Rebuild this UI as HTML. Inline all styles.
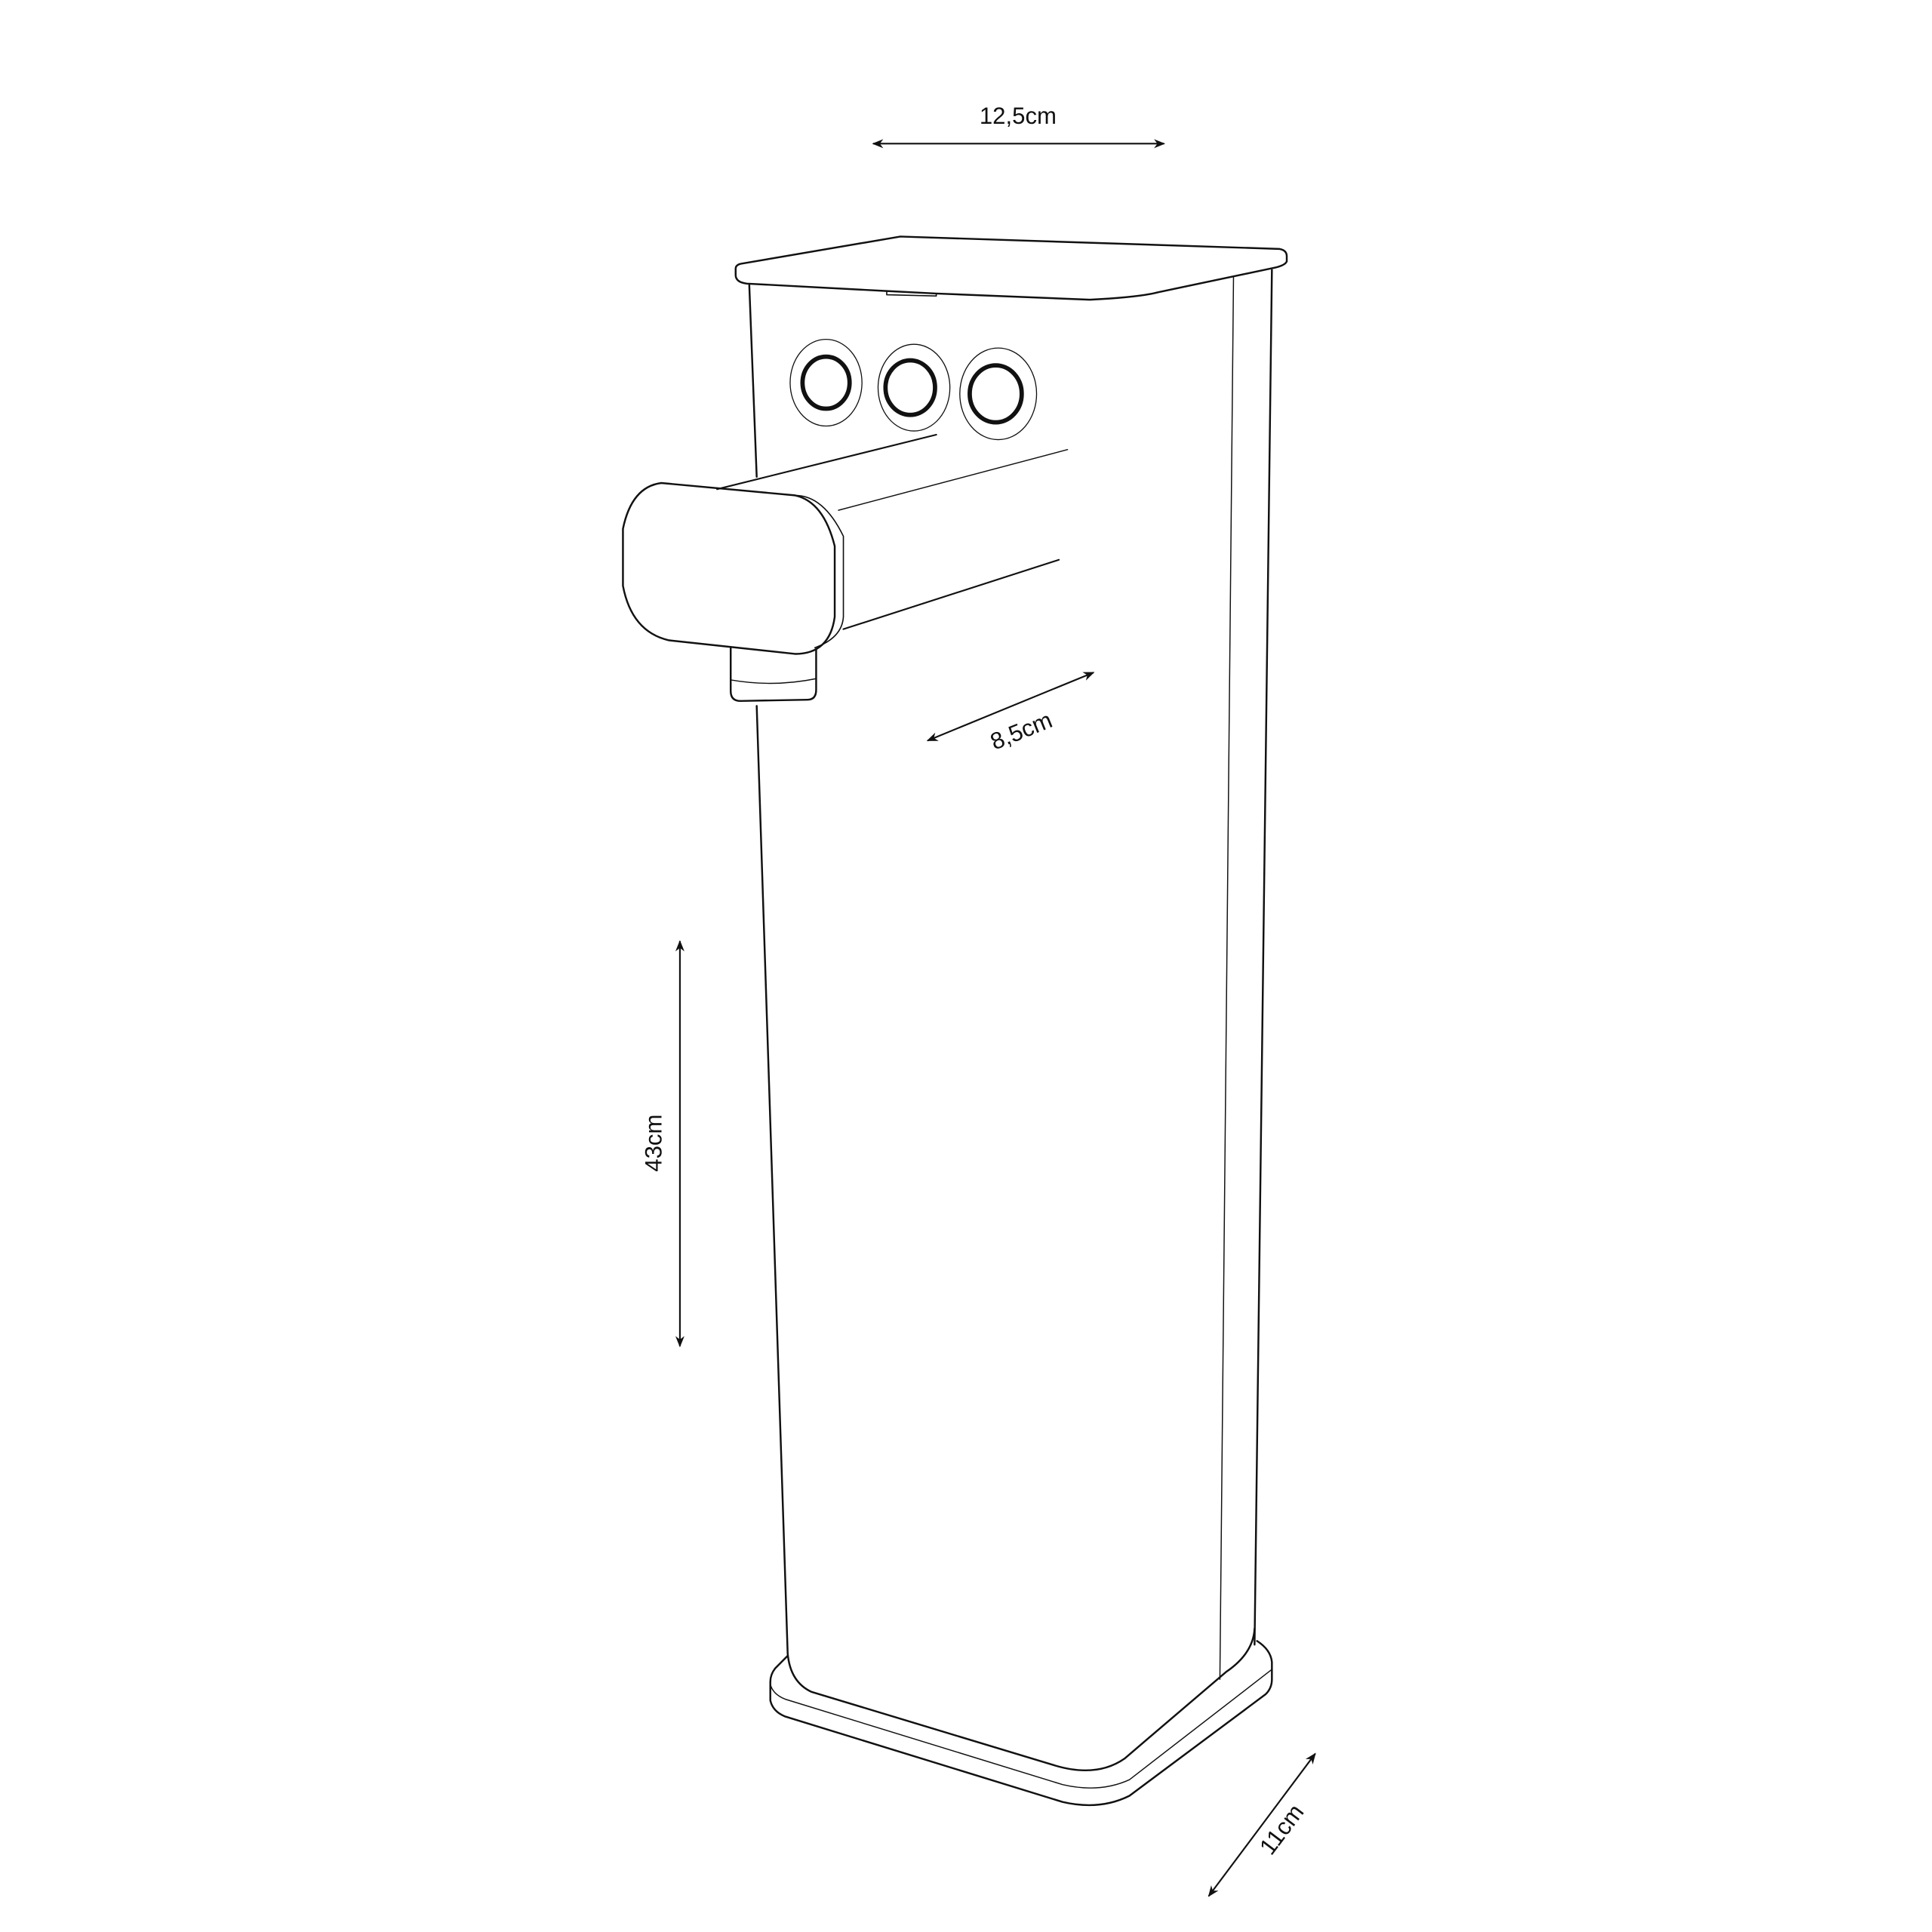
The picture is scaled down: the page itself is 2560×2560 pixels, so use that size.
<!DOCTYPE html>
<html><head><meta charset="utf-8"><style>
html,body{margin:0;padding:0;background:#fff;}
svg{display:block;}
text{font-family:"Liberation Sans",sans-serif;fill:#111;}
</style></head><body>
<svg width="2560" height="2560" viewBox="0 0 1560 1560" xmlns="http://www.w3.org/2000/svg">
<defs>
<marker id="ah" viewBox="0 0 10 10" refX="9" refY="5" markerWidth="7" markerHeight="7" orient="auto-start-reverse"><path d="M0,1 L10,5 L0,9 L3,5 Z" fill="#111"/></marker>
</defs>
<g fill="none" stroke="#111" stroke-linejoin="round" stroke-linecap="round">
<!-- lid -->
<path d="M598,213 L727,191 L1033,201 Q1039,202 1039,207 L1039,211 Q1038,214 1030,216 L935,236 Q920,240 880,242 L756,237 L716,235 L603,229 Q594,228 594,222 L594,217 Q594,214 598,213 Z" stroke-width="1.5"/>
<path d="M716,235 L716,238 L756,239 L756,237" stroke-width="1"/>
<!-- body -->
<path d="M605,230 L611,385" stroke-width="1.5"/>
<path d="M1027,218 L1013,1328" stroke-width="1.5"/>
<path d="M996,224 L985,1356" stroke-width="0.9"/>
<path d="M611,570 L636,1335 Q638,1358 655,1366 L850,1425 Q885,1436 908,1420 L990,1350 Q1012,1335 1013,1315" stroke-width="1.5"/>
<!-- base -->
<path d="M636,1337 L626,1347 Q622,1352 622,1358 L622,1373 Q624,1382 634,1386 L858,1455 Q888,1462 912,1450 L1022,1368 Q1027,1363 1027,1356 L1027,1342 Q1026,1332 1015,1325" stroke-width="1.5"/>
<path d="M622,1360 Q624,1368 634,1372 L858,1441 Q888,1448 912,1437 L1027,1348" stroke-width="0.9"/>
<!-- buttons -->
<ellipse cx="667" cy="309" rx="29" ry="35" stroke-width="0.8"/>
<ellipse cx="667" cy="309" rx="19" ry="21" stroke-width="3.5"/>
<ellipse cx="738" cy="313" rx="29" ry="35" stroke-width="0.8"/>
<ellipse cx="735" cy="313" rx="20" ry="22" stroke-width="3.5"/>
<ellipse cx="806" cy="318" rx="31" ry="37" stroke-width="0.8"/>
<ellipse cx="804" cy="318" rx="21" ry="23" stroke-width="3.5"/>
<!-- spout -->
<path d="M579,395 L756,351" stroke-width="1.3"/>
<path d="M677,412 L862,363" stroke-width="0.9"/>
<path d="M681,508 L855,452" stroke-width="1.3"/>
<path d="M642,400 Q665,400 681,433 L681,498 Q680,515 658,523" stroke-width="1"/>
<path d="M534,390 L642,400 Q665,405 674,441 L674,498 Q670,528 642,528 L540,517 Q510,510 503,473 L503,427 Q510,393 534,390 Z" stroke-width="1.5"/>
<!-- nozzle -->
<path d="M590,523 L590,558 Q590,566 598,566 L652,565 Q659,565 659,557 L659,524" stroke-width="1.5"/>
<path d="M590,549 Q625,555 659,548" stroke-width="0.9"/>
</g>
<!-- dimension arrows -->
<g stroke="#111" stroke-width="1.3" fill="none">
<line x1="705" y1="116" x2="940" y2="116" marker-start="url(#ah)" marker-end="url(#ah)"/>
<line x1="749" y1="598" x2="883" y2="543" marker-start="url(#ah)" marker-end="url(#ah)"/>
<line x1="549" y1="760" x2="549" y2="1087" marker-start="url(#ah)" marker-end="url(#ah)"/>
<line x1="976" y1="1531" x2="1062" y2="1416" marker-start="url(#ah)" marker-end="url(#ah)"/>
</g>
<text x="822" y="100" font-size="19" text-anchor="middle">12,5cm</text>
<text transform="translate(827,596) rotate(-22)" font-size="19" text-anchor="middle">8,5cm</text>
<text transform="translate(534,923) rotate(-90)" font-size="19" text-anchor="middle">43cm</text>
<text transform="translate(1040,1481) rotate(-53)" font-size="19" text-anchor="middle">11cm</text>
</svg>
</body></html>
